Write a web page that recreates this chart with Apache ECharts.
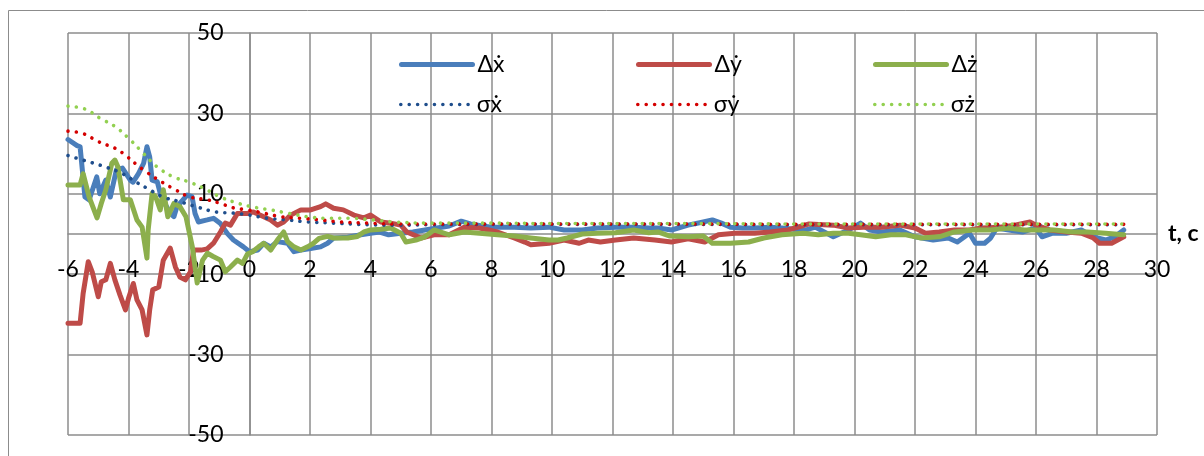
<!DOCTYPE html>
<html>
<head>
<meta charset="utf-8">
<script src="https://cdn.jsdelivr.net/npm/echarts@6/dist/echarts.min.js"></script>
<style>
  html, body { margin: 0; padding: 0; background: #fff; }
  #chart { width: 1204px; height: 456px; }
</style>
</head>
<body>
<div id="chart"></div>
<script>
// ---------- data ----------
const xTicks = [-6, -4, -2, 0, 2, 4, 6, 8, 10, 12, 14, 16, 18, 20, 22, 24, 26, 28, 30];
const yTicks = [-50, -30, -10, 10, 30, 50];
const seriesNames = ['Δx\u0307', 'Δy\u0307', 'Δz\u0307', 'σx\u0307', 'σy\u0307', 'σz\u0307'];

const dxT = [-6.0,-5.7,-5.6,-5.44,-5.3,-5.05,-4.95,-4.75,-4.6,-4.4,-4.2,-3.94,-3.85,-3.67,-3.5,-3.39,-3.3,-3.22,-3.05,-2.95,-2.8,-2.62,-2.5,-2.4,-2.2,-2.06,-1.9,-1.8,-1.69,-1.4,-1.19,-0.96,-0.73,-0.53,-0.2,0,0.27,0.47,0.7,0.92,1.26,1.47,1.7,2.02,2.35,2.58,2.78,3.25,3.68,4.0,4.3,4.6,5.0,5.4,5.8,6.2,6.6,7.0,7.3,7.7,8.0,8.75,9.3,9.9,10.4,11.0,11.5,12.1,12.7,13.2,13.5,13.95,14.5,15.0,15.3,15.6,15.9,16.3,16.7,17.2,17.6,18.0,18.4,18.7,19.3,19.8,20.2,20.5,20.9,21.5,22.0,22.6,23.1,23.4,23.8,24.0,24.3,24.5,24.7,25.1,25.55,26.0,26.2,26.55,27.0,27.5,27.9,28.3,28.6,28.9];
const dxV = [23.5,22,21.7,9.2,8.5,14.2,10,13.4,9.2,16,16.4,13.4,12.9,15,17.6,21.7,19.2,13.4,13,10.1,7.6,5.1,4.3,6.8,8.5,9.7,9.3,5.1,3.0,3.5,3.9,2.6,0.1,-1.5,-3.2,-4.4,-4,-2.3,-3.2,-1.9,-2.3,-4.4,-4,-3.6,-3.2,-2.3,-1,-0.8,-0.2,0.2,0.5,-0.2,0.2,0.5,1,1.5,2,3.2,2.5,2,1.7,1.7,1.5,1.7,1,1,1.5,1.7,1.7,1.5,1.5,1,2.2,3,3.5,2.7,1.7,1.5,1.5,1.7,1.5,1.2,1,1.7,-0.7,1,2.7,1,0.5,1,-0.7,-1.5,-1,-2,0.2,-2.3,-2.3,-1,1.5,1,0.5,1.5,-0.7,0.2,0.2,1,-0.7,-1.5,-0.7,1];

const dyT = [-6.0,-5.6,-5.5,-5.33,-5.2,-5.0,-4.9,-4.75,-4.6,-4.45,-4.28,-4.1,-4.0,-3.84,-3.72,-3.55,-3.39,-3.3,-3.2,-3.0,-2.85,-2.62,-2.45,-2.3,-2.12,-1.95,-1.85,-1.6,-1.4,-1.19,-0.96,-0.8,-0.63,-0.4,-0.07,0.13,0.47,0.7,0.92,1.13,1.36,1.7,2.02,2.35,2.52,2.78,3.1,3.45,3.78,4.0,4.34,4.67,5.0,5.2,5.67,6.1,6.6,7.1,7.6,8.2,8.75,9.1,9.3,9.9,10.4,10.9,11.2,11.6,12.1,12.7,13.4,13.95,14.5,15.05,15.5,16.05,16.7,17.2,17.8,18.5,19.3,19.8,20.3,20.9,21.5,22.0,22.35,22.8,23.3,23.8,24.2,24.8,25.3,25.8,26.0,26.45,27.0,27.5,27.9,28.1,28.5,28.9];
const dyV = [-22.2,-22.2,-14.8,-6.9,-9.4,-15.6,-11.9,-11.4,-7.3,-11.4,-15.2,-18.9,-16,-12.3,-16.4,-18.9,-25.1,-18.9,-13.9,-13.2,-6.5,-3.5,-8.2,-10.7,-11.4,-9.4,-4.0,-4,-3.7,-2.3,0.5,2.7,2.2,5.1,5.1,5.5,4.3,3.5,2.2,3,4.7,6,6,6.8,7.5,6.4,6,4.7,4,4.7,3,2.7,2.2,0.5,-1,-0.2,-0.2,1.7,1.5,0.5,-1,-2,-2.7,-2.3,-1.5,-2.3,-1.5,-2,-1.5,-1,-1.5,-2,-1.2,-2,-0.2,0.2,0.2,0.5,1,2.5,2.2,1.5,1.7,1.7,2.2,1.5,0.2,0.5,1,1,1.5,1.7,2.2,3,2.2,1,0.5,0.2,-1,-2.3,-2.3,-0.7];

const dzT = [-6.0,-5.6,-5.5,-5.3,-5.04,-4.9,-4.75,-4.55,-4.45,-4.35,-4.17,-3.94,-3.72,-3.55,-3.39,-3.35,-3.22,-3.1,-2.95,-2.85,-2.7,-2.5,-2.3,-2.1,-1.89,-1.8,-1.73,-1.55,-1.39,-1.2,-0.96,-0.8,-0.63,-0.4,-0.23,-0.07,0.1,0.3,0.47,0.7,0.92,1.13,1.26,1.47,1.7,1.92,2.12,2.3,2.58,2.78,3.25,3.57,3.78,4.0,4.34,4.67,5.0,5.17,5.5,5.8,6.1,6.6,7.1,7.6,8.2,8.75,9.3,9.9,10.2,10.5,11.0,11.5,12.1,12.7,13.2,13.5,13.9,14.5,15.0,15.3,15.9,16.5,17.0,17.6,18.3,18.8,19.3,19.8,20.2,20.7,21.2,21.7,22.2,22.8,23.3,23.9,24.5,25.1,25.6,26.1,26.6,27.2,27.7,28.3,28.9];
const dzV = [12.2,12.2,15,9.2,4,7.6,11,17.6,18.4,16.7,8.5,8.5,3.5,1.7,-6,1,10.1,9.2,6,11,4.3,7.6,6.8,4.3,-3.2,-8.2,-12.2,-6.5,-4.8,-5.6,-6.5,-9.4,-8.2,-6.5,-7.3,-5,-4.4,-3.2,-2.3,-4,-1.5,0.5,-1.9,-3.2,-4,-3.2,-2.3,-1.1,-0.6,-1,-1,-0.6,0.5,1,1.2,1.5,0.2,-2,-1.5,-0.7,1,-0.2,0.5,0.2,-0.2,-0.5,-1,-1.5,-1.5,-1,0,0.2,0.3,1,0.3,0.5,-0.5,-0.7,-0.5,-2.3,-2.3,-2,-1,-0.2,0.2,-0.2,0.2,0.2,-0.2,-0.7,-0.2,-0.2,-1,-0.7,0.5,1,1,1.5,1,1,1,0.5,0.5,0.2,-0.2];

const sxT = [-6,-5.33,-4.77,-4.2,-3.7,-3.39,-2.85,-2.29,-1.72,-1.13,-0.53,0,0.6,1.26,1.92,2.78,3.9,4.9,6,8,10,14,18,22,26,28.9];
const sxV = [19.5,18,16.7,15,12.7,11.4,9.2,8,6.7,5.5,5.2,4.7,3.9,3.5,3,2.7,2.3,2.2,2.3,2.4,2.4,2.4,2.3,2.3,2.3,2.3];

const syT = [-6,-5.5,-5,-4.44,-4.17,-3.72,-3.5,-3,-2.45,-1.96,-1.39,-1,-0.53,-0.07,0.47,1.03,1.7,2.35,3,3.9,4.9,6,8,10,14,18,22,26,28.9];
const syV = [25.6,25,23,21.3,20,17.2,15.9,13.4,11,9.2,8.5,7.7,6.5,6,5.2,4.3,3.9,3.5,3,2.7,2.5,2.5,2.5,2.5,2.5,2.4,2.4,2.4,2.4];

const szT = [-6,-5.44,-4.94,-4.44,-3.94,-3.5,-3.05,-2.52,-2.02,-1.52,-0.96,-0.4,0.13,0.7,1.26,1.92,2.58,3.35,4.1,4.77,6,8,10,14,18,22,26,28.9];
const szV = [31.8,31.1,28.8,26.7,23.4,20,16.7,14.2,13,11.4,9.2,7.7,6.7,6,5.2,4.3,3.9,3.9,3.5,3,2.7,2.7,2.6,2.6,2.5,2.5,2.5,2.5];

// ---------- chart ----------
const zip = (t, v) => t.map((x, i) => [x, v[i]]);
const FONT = 'Lato';
const gridColor = '#8c8c8c';
const SOLID_W = 5, DOT_W = 3.6;

const GRID = { left: 68, right: 47, top: 33, bottom: 21 };
const X_MIN = -6, X_MAX = 30, Y_MIN = -50, Y_MAX = 50;
const plotW = 1204 - GRID.left - GRID.right;
const plotH = 456 - GRID.top - GRID.bottom;
// shift the axes so they cross at the data origin (0, 0)
const xAxisOffset = -plotH * (0 - Y_MIN) / (Y_MAX - Y_MIN);
const yAxisOffset = -plotW * (0 - X_MIN) / (X_MAX - X_MIN);

const solid = (name, t, v, color) => ({
  name, type: 'line', data: zip(t, v), symbol: 'none', smooth: false,
  lineStyle: { color, width: SOLID_W, join: 'round', cap: 'round' },
  itemStyle: { color }, z: 3
});
const dotted = (name, t, v, color) => ({
  name, type: 'line', data: zip(t, v), symbol: 'none', smooth: 0.4,
  lineStyle: { color, width: DOT_W, type: [0.01, 8.4], cap: 'round' },
  itemStyle: { color }, z: 4
});

const legendPos = [[394, 48], [631, 48], [868, 48], [394, 88], [631, 88], [868, 88]];
const legends = seriesNames.map((n, i) => ({
  data: [n], left: legendPos[i][0], top: legendPos[i][1],
  itemWidth: 71, itemHeight: 22, itemGap: 0,
  itemStyle: { opacity: 0 },
  lineStyle: { width: i < 3 ? SOLID_W : DOT_W, cap: 'round' },
  textStyle: { fontFamily: FONT, fontSize: 23, color: '#000' },
  selectedMode: false
}));

const chart = echarts.init(document.getElementById('chart'), null, { renderer: 'canvas' });
chart.setOption({
  animation: false,
  backgroundColor: '#fff',
  graphic: [{
    type: 'rect', shape: { x: 8.5, y: 10.5, width: 1400, height: 600 },
    style: { fill: 'none', stroke: '#8c8c8c', lineWidth: 1 }, silent: true, z: -1
  }],
  legend: legends,
  grid: { left: GRID.left, right: GRID.right, top: GRID.top, bottom: GRID.bottom, outerBoundsMode: 'none', containLabel: false },
  xAxis: {
    type: 'value', min: X_MIN, max: X_MAX, interval: 2, position: 'bottom', offset: xAxisOffset,
    name: 't, c', nameLocation: 'end', nameGap: 11,
    nameTextStyle: { fontFamily: FONT, fontSize: 23, fontWeight: 'bold', color: '#000', verticalAlign: 'middle' },
    axisLine: { onZero: false, lineStyle: { color: gridColor, width: 1.5 } },
    axisTick: { show: false },
    axisLabel: { fontFamily: FONT, fontSize: 23, color: '#000', margin: 24,
      formatter: v => xTicks.includes(v) ? String(v) : '' },
    splitLine: { show: true, lineStyle: { color: gridColor, width: 1.5 } }
  },
  yAxis: {
    type: 'value', min: Y_MIN, max: Y_MAX, interval: 20, position: 'left', offset: yAxisOffset,
    axisLine: { show: true, onZero: false, lineStyle: { color: gridColor, width: 1.5 } },
    axisTick: { show: false },
    axisLabel: { fontFamily: FONT, fontSize: 23, color: '#000', margin: 26,
      formatter: v => yTicks.includes(v) ? String(v) : '' },
    splitLine: { show: true, lineStyle: { color: gridColor, width: 1.5 } }
  },
  series: [
    solid(seriesNames[0], dxT, dxV, '#4A7EBB'),
    solid(seriesNames[1], dyT, dyV, '#BE4B48'),
    solid(seriesNames[2], dzT, dzV, '#8CAF4C'),
    dotted(seriesNames[3], sxT, sxV, '#1F4E8C'),
    dotted(seriesNames[4], syT, syV, '#D40000'),
    dotted(seriesNames[5], szT, szV, '#92D050')
  ]
});
</script>
</body>
</html>
